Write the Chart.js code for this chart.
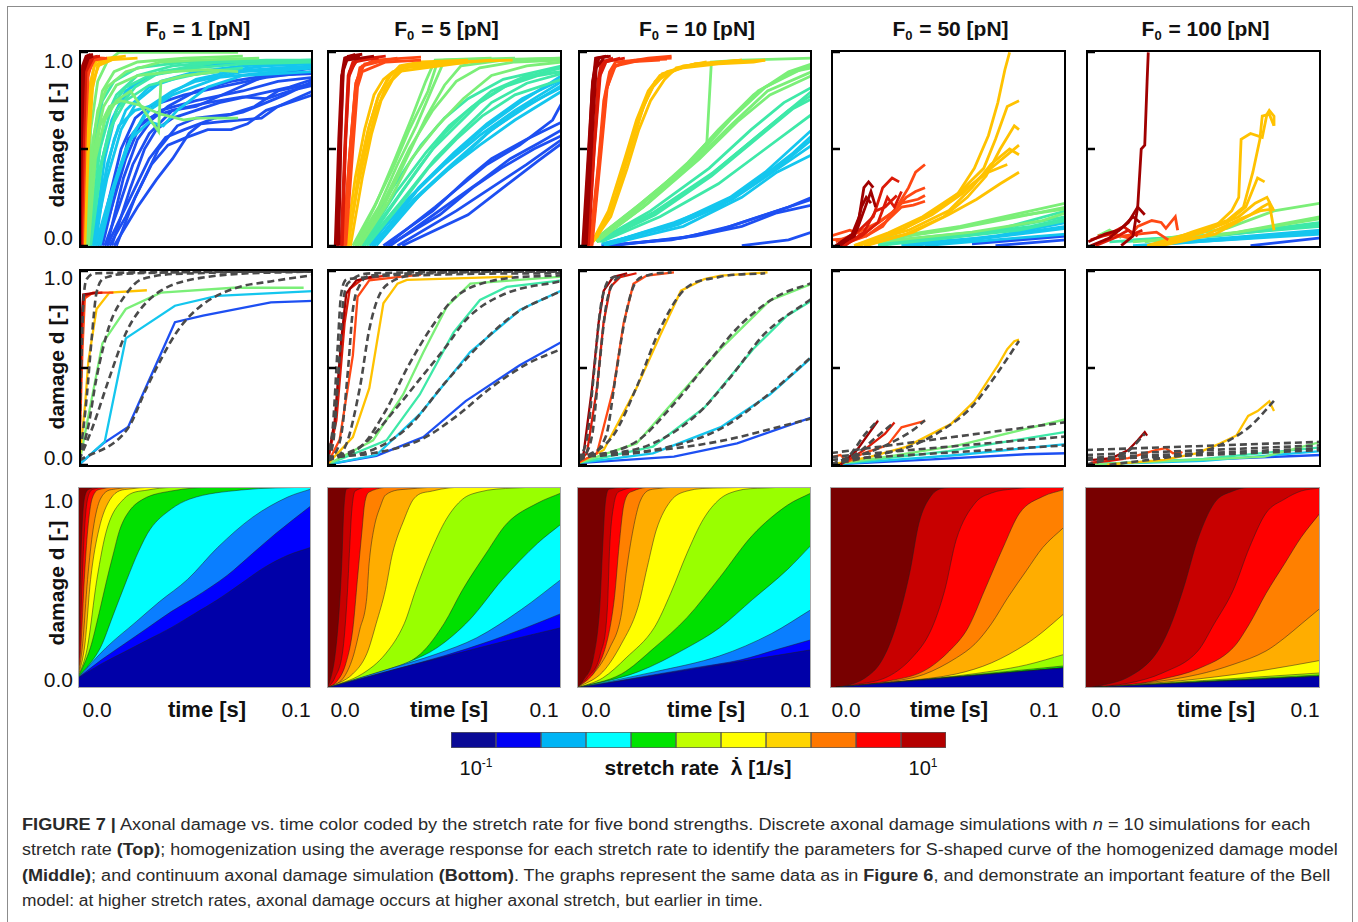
<!DOCTYPE html>
<html><head><meta charset="utf-8">
<script src="https://cdn.jsdelivr.net/npm/chart.js@4.4.1/dist/chart.umd.min.js"></script>
<style>
html,body{margin:0;padding:0;background:#fff;}
body{width:1358px;height:922px;position:relative;overflow:hidden;font-family:"Liberation Sans",Arial,Helvetica,sans-serif;color:#111;}
.abs{position:absolute;white-space:nowrap;line-height:1.15;}
#box{position:absolute;left:7px;top:6px;width:1346px;height:940px;border:1.5px solid #8c8c8c;box-sizing:border-box;}
.title{font-weight:bold;font-size:21px;transform:translate(-50%,-50%);}
.title sub{font-size:13px;vertical-align:-4px;margin-right:1px;}
.ylab{font-size:21px;transform:translate(-100%,-50%);}
.yname{font-weight:bold;font-size:21px;transform:translate(-50%,-50%) rotate(-90deg);}
.xl{font-size:21px;transform:translate(-50%,-50%);}
.xname{font-weight:bold;font-size:22px;transform:translate(-50%,-50%);}
.cb{font-size:20px;transform:translate(-50%,-50%);}
.cb sup{font-size:12px;vertical-align:8px;}
.cbname{font-weight:bold;font-size:21px;transform:translate(-50%,-50%);}
.lam{position:relative;display:inline-block;}
.lam .dot{position:absolute;left:50%;top:-3px;transform:translateX(-50%);font-weight:bold;}
.cap{font-size:16px;color:#2a2a2a;transform-origin:0 0;line-height:1;}
</style></head><body>
<div id="box"></div>
<script>
// ---------------- DATA ----------------
const FORCES = [1, 5, 10, 50, 100];           // bond strengths F0 [pN]
const TIME_TICKS = ['0.0', '0.1'];            // time [s]
const DAMAGE_TICKS = ['1.0', '0.0'];          // damage d [-]
const RATE_BINS = ['10^-1','','','','','','','','','','10^1']; // colorbar bins (11)

// Top row: discrete simulations [stretch-rate index, flat (t,d) pairs]
const TOP_F1 = [
[0,[.009,0,.014,.2,.02,.45,.026,.62,.035,.7,.05,.75,.07,.8,.085,.85,.1,.87]],
[0,[.011,0,.017,.2,.023,.42,.03,.58,.04,.7,.055,.74,.07,.77,.08,.76,.09,.8,.1,.83]],
[0,[.013,0,.02,.15,.028,.35,.034,.5,.042,.62,.05,.66,.065,.68,.075,.72,.085,.8,.1,.84]],
[0,[.012,0,.022,.25,.03,.45,.037,.56,.045,.6,.058,.66,.07,.69,.08,.74,.088,.78,.1,.85]],
[0,[.015,0,.025,.2,.033,.34,.04,.45,.047,.58,.052,.63,.06,.64,.078,.66,.085,.72,.1,.8]],
[0,[.008,0,.013,.25,.018,.5,.024,.66,.03,.72,.045,.78,.06,.82,.08,.87,.1,.9]],
[0,[.01,0,.016,.3,.021,.55,.027,.64,.032,.67,.04,.7,.05,.72,.065,.8,.08,.88,.1,.92]],
[0,[.014,0,.022,.3,.028,.5,.033,.6,.04,.66,.05,.7,.06,.74,.075,.78,.09,.82,.1,.86]],
[0,[.016,0,.024,.25,.031,.42,.038,.52,.046,.56,.055,.6,.065,.6,.072,.63,.08,.7,.1,.78]],
[0,[.012,0,.019,.35,.025,.55,.031,.65,.038,.72,.05,.8,.065,.85,.08,.88,.1,.89]],
[1,[.005,0,.01,.3,.015,.55,.02,.7,.03,.82,.045,.88,.06,.9,.08,.93,.1,.94]],
[1,[.006,0,.012,.35,.018,.6,.025,.75,.035,.85,.05,.9,.07,.93,.1,.95]],
[1,[.007,0,.013,.25,.02,.5,.028,.68,.038,.78,.05,.86,.065,.9,.085,.92,.1,.93]],
[1,[.005,0,.009,.4,.014,.65,.02,.8,.03,.88,.045,.92,.06,.95,.1,.96]],
[1,[.008,0,.015,.3,.022,.55,.03,.64,.036,.62,.042,.7,.055,.82,.07,.88,.1,.9]],
[1,[.006,0,.011,.45,.016,.7,.022,.82,.03,.88,.05,.93,.075,.95,.1,.95]],
[1,[.007,0,.012,.42,.017,.62,.024,.7,.03,.72,.04,.8,.05,.85,.07,.9,.1,.92]],
[1,[.009,0,.016,.35,.023,.58,.03,.7,.04,.78,.06,.87,.1,.92]],
[2,[.003,0,.007,.4,.011,.65,.016,.78,.025,.88,.04,.93,.06,.95,.08,.96,.1,.96]],
[2,[.004,0,.008,.35,.013,.6,.02,.75,.03,.83,.04,.86,.055,.9,.07,.92]],
[2,[.003,0,.006,.5,.01,.75,.015,.85,.025,.92,.045,.95,.077,.96]],
[2,[.004,0,.009,.5,.014,.72,.02,.82,.03,.88,.05,.92,.07,.94,.1,.95]],
[2,[.005,0,.01,.45,.016,.7,.024,.82,.035,.9,.06,.95,.1,.96]],
[3,[.002,0,.005,.45,.008,.7,.012,.82,.02,.9,.035,.95,.05,.96,.077,.97]],
[3,[.003,0,.006,.4,.009,.62,.013,.72,.018,.75,.025,.73,.035,.68,.045,.65,.05,.66,.068,.66]],
[3,[.003,0,.005,.6,.008,.85,.012,.95,.017,1,.068,1]],
[3,[.004,0,.007,.45,.011,.65,.016,.75,.022,.8,.034,.59,.035,.85,.045,.88,.06,.9]],
[3,[.003,0,.006,.55,.01,.8,.015,.9,.025,.95,.045,.97,.07,.98]],
[3,[.0035,0,.0065,.5,.0105,.72,.016,.83,.025,.88,.04,.9,.055,.91,.068,.9]],
[4,[.0015,0,.003,.5,.005,.85,.007,.95,.012,.97,.02,.98]],
[4,[.002,0,.0035,.45,.0055,.8,.008,.93,.014,.96]],
[4,[.0025,0,.004,.5,.006,.85,.009,.95,.016,.97]],
[4,[.002,0,.0032,.55,.0048,.82,.0065,.93,.011,.96,.025,.97]],
[5,[.001,0,.002,.5,.003,.85,.005,.96,.01,.97]],
[5,[.0015,0,.0028,.6,.004,.9,.007,.97,.011,.97]],
[5,[.0012,0,.0024,.55,.0036,.87,.006,.96,.012,.97]],
[6,[.0008,0,.0015,.6,.0025,.92,.004,.97,.008,.98]],
[6,[.001,0,.002,.55,.003,.9,.006,.97]],
[6,[.0009,0,.0018,.6,.0028,.9,.005,.97,.009,.98]],
[7,[.0003,0,.0008,.6,.0015,.93,.003,.98,.005,.99]],
[7,[.0005,0,.001,.5,.002,.9,.004,.97,.006,.98]],
[7,[.0004,0,.0009,.55,.0018,.92,.0035,.98,.006,.99]]
];
const TOP_F5 = [
[0,[.025,0,.046,.2,.068,.42,.082,.52,.096,.65,.1,.74]],
[0,[.024,0,.045,.18,.06,.35,.07,.45,.085,.55,.1,.64]],
[0,[.027,0,.05,.2,.065,.33,.078,.45,.09,.53,.1,.6]],
[0,[.03,0,.055,.18,.07,.3,.085,.42,.1,.55]],
[0,[.032,0,.06,.16,.075,.3,.09,.44,.1,.53]],
[0,[.026,0,.048,.16,.062,.3,.074,.4,.088,.5,.1,.57]],
[1,[.018,0,.035,.25,.05,.42,.065,.57,.08,.7,.1,.85]],
[1,[.02,0,.038,.28,.052,.45,.066,.6,.082,.74,.1,.88]],
[1,[.019,0,.036,.22,.05,.38,.065,.52,.08,.65,.1,.8]],
[1,[.021,0,.04,.27,.055,.43,.07,.6,.085,.72,.1,.83]],
[1,[.019,0,.037,.24,.053,.42,.068,.58,.084,.72,.1,.82]],
[1,[.02,0,.039,.3,.054,.48,.068,.63,.083,.76,.1,.86]],
[2,[.015,0,.03,.25,.04,.42,.05,.58,.06,.7,.07,.8,.085,.88,.1,.9]],
[2,[.016,0,.032,.28,.045,.5,.055,.62,.065,.74,.078,.84,.09,.89,.1,.92]],
[2,[.017,0,.033,.24,.043,.4,.055,.55,.066,.67,.08,.78,.1,.86]],
[2,[.014,0,.028,.3,.04,.52,.05,.66,.06,.76,.075,.86,.1,.93]],
[2,[.015,0,.029,.27,.042,.48,.052,.62,.062,.72,.075,.82,.09,.88,.1,.9]],
[2,[.016,0,.031,.22,.046,.45,.058,.6,.07,.74,.085,.84,.1,.89]],
[3,[.011,0,.02,.2,.028,.4,.035,.6,.043,.8,.047,.95,.06,.96,.1,.97]],
[3,[.012,0,.022,.2,.03,.42,.038,.62,.045,.82,.05,.96,.08,.97]],
[3,[.013,0,.025,.25,.035,.5,.045,.7,.055,.85,.065,.92,.08,.95,.1,.96]],
[3,[.014,0,.026,.22,.036,.45,.047,.62,.058,.76,.07,.88,.085,.93,.1,.95]],
[3,[.012,0,.021,.22,.029,.45,.036,.66,.042,.85,.046,.96,.07,.97]],
[3,[.013,0,.024,.2,.033,.43,.042,.66,.05,.83,.057,.93,.075,.96,.1,.97]],
[4,[.008,0,.012,.35,.016,.6,.02,.78,.024,.86,.028,.9,.035,.93,.05,.95,.079,.96]],
[4,[.009,0,.014,.4,.018,.62,.022,.78,.027,.88,.031,.93,.04,.95,.06,.96]],
[4,[.0085,0,.013,.3,.017,.52,.021,.7,.025,.82,.03,.9,.06,.95]],
[4,[.01,0,.015,.35,.019,.58,.023,.75,.028,.86,.033,.92,.07,.96]],
[4,[.009,0,.0135,.38,.0175,.6,.0215,.76,.026,.87,.032,.93,.05,.95]],
[5,[.0068,0,.0095,.45,.012,.8,.014,.92,.02,.96,.04,.975]],
[5,[.0075,0,.01,.5,.0125,.85,.016,.94,.03,.97]],
[5,[.008,0,.011,.5,.013,.82,.015,.9,.025,.95,.04,.96]],
[5,[.007,0,.0098,.5,.0122,.84,.015,.93,.025,.96]],
[6,[.006,0,.0075,.5,.009,.88,.011,.95,.018,.97,.025,.98]],
[6,[.0065,0,.008,.55,.0095,.9,.013,.96,.022,.97]],
[6,[.0062,0,.0078,.52,.0092,.87,.012,.95,.02,.97]],
[7,[.004,0,.0055,.5,.0065,.9,.0075,.97,.012,.99]],
[7,[.005,0,.006,.6,.007,.92,.009,.98,.015,.99]],
[7,[.0035,0,.005,.55,.0062,.88,.0085,.96,.02,.98]],
[7,[.0045,0,.0058,.55,.0068,.9,.008,.97,.014,.98]]
];
const TOP_F10 = [
[0,[.01,0,.04,.03,.06,.08,.075,.14,.09,.2,.1,.25]],
[0,[.012,0,.045,.04,.065,.1,.08,.16,.1,.24]],
[0,[.015,0,.05,.05,.07,.1,.085,.17,.1,.21]],
[0,[.07,0,.09,.03,.1,.07]],
[1,[.01,.01,.04,.1,.06,.2,.075,.32,.09,.45,.1,.55]],
[1,[.012,.01,.042,.12,.065,.25,.08,.38,.1,.6]],
[1,[.011,0,.045,.1,.07,.25,.085,.38,.1,.47]],
[1,[.011,.01,.043,.11,.066,.24,.082,.37,.1,.52]],
[1,[.012,.01,.041,.12,.062,.22,.078,.35,.092,.48,.1,.57]],
[2,[.008,.02,.03,.15,.055,.35,.075,.55,.09,.7,.1,.78]],
[2,[.009,.03,.032,.17,.058,.38,.078,.58,.092,.72,.1,.8]],
[2,[.01,.02,.035,.15,.06,.32,.08,.5,.1,.68]],
[2,[.009,.02,.033,.16,.057,.36,.077,.56,.092,.71,.1,.76]],
[2,[.008,.02,.031,.18,.056,.4,.074,.6,.088,.74,.1,.82]],
[3,[.007,.03,.025,.2,.045,.4,.06,.6,.075,.78,.09,.9,.1,.94]],
[3,[.008,.02,.028,.2,.048,.42,.055,.52,.057,.95,.07,.96,.1,.97]],
[3,[.006,.02,.027,.22,.05,.45,.065,.65,.08,.82,.095,.91,.1,.93]],
[3,[.009,.03,.03,.22,.052,.45,.068,.64,.082,.78,.1,.88]],
[3,[.008,.02,.027,.21,.047,.43,.062,.62,.077,.8,.092,.9,.1,.92]],
[3,[.007,.03,.029,.23,.05,.44,.066,.63,.081,.8,.1,.9]],
[4,[.006,.02,.013,.18,.02,.45,.025,.65,.03,.8,.035,.88,.045,.92,.06,.94,.075,.95,.08,.96]],
[4,[.007,.03,.015,.2,.022,.5,.027,.7,.032,.82,.038,.9,.05,.94,.07,.96]],
[4,[.0065,.02,.014,.15,.021,.4,.026,.6,.031,.75,.037,.86,.042,.92,.055,.95]],
[4,[.008,.04,.016,.25,.023,.52,.028,.72,.033,.85,.045,.93,.07,.96]],
[4,[.007,.03,.0145,.19,.0215,.47,.0265,.67,.031,.81,.036,.89,.05,.94,.08,.96]],
[5,[.005,0,.0085,.4,.011,.75,.0135,.9,.016,.95,.025,.96,.03,.97,.04,.98]],
[5,[.0055,0,.009,.45,.012,.8,.015,.92,.02,.95,.035,.96]],
[5,[.006,0,.01,.5,.0125,.82,.016,.93,.027,.96,.038,.965]],
[5,[.0058,0,.0095,.48,.0122,.81,.0155,.93,.024,.96,.04,.97]],
[6,[.004,0,.0065,.45,.0085,.85,.01,.95,.015,.97]],
[6,[.0045,0,.007,.5,.0095,.88,.012,.95,.018,.97]],
[6,[.0042,0,.0068,.48,.009,.86,.011,.95,.02,.97]],
[7,[.002,0,.004,.4,.006,.8,.0075,.97,.012,.98]],
[7,[.003,0,.005,.5,.0068,.88,.009,.97,.014,.98]],
[7,[.0035,0,.006,.55,.0078,.92,.011,.97]],
[7,[.0025,0,.0045,.45,.0062,.85,.008,.97,.013,.98]]
];
const TOP_F50 = [
[0,[.07,0,.1,.03]],
[0,[.06,.01,.1,.05]],
[1,[.03,0,.06,.03,.1,.09]],
[1,[.035,0,.07,.05,.1,.12]],
[1,[.04,0,.08,.04,.1,.06]],
[1,[.03,.01,.065,.04,.1,.1]],
[2,[.02,0,.05,.04,.08,.08,.1,.13]],
[2,[.025,.01,.06,.06,.1,.15]],
[2,[.02,.02,.07,.08,.1,.18]],
[2,[.02,.01,.055,.05,.085,.1,.1,.14]],
[3,[.015,.02,.05,.08,.08,.15,.1,.2]],
[3,[.018,.03,.055,.1,.085,.18,.1,.22]],
[3,[.02,.02,.06,.07,.09,.13,.1,.17]],
[3,[.017,.02,.052,.09,.083,.16,.1,.19]],
[4,[.0098,0,.0244,.067,.039,.15,.054,.27,.061,.4,.067,.57,.071,.74,.074,.91,.076,1]],
[4,[.012,0,.03,.08,.045,.18,.055,.28,.065,.4,.07,.55,.075,.72,.08,.75]],
[4,[.014,0,.032,.06,.048,.15,.058,.25,.066,.36,.072,.5,.078,.62,.08,.6]],
[4,[.01,0,.028,.07,.043,.16,.056,.27,.064,.36,.073,.45,.08,.52]],
[4,[.013,.01,.033,.08,.05,.18,.06,.3,.068,.42,.076,.5,.08,.47]],
[4,[.015,0,.035,.07,.05,.16,.062,.24,.072,.32,.08,.38]],
[4,[.011,0,.031,.09,.047,.2,.058,.3,.067,.38,.075,.42]],
[5,[0,.05,.008,.08,.015,.05,.022,.1,.028,.2,.033,.3,.036,.38,.04,.42]],
[5,[.002,.02,.01,.06,.02,.12,.027,.18,.032,.25,.036,.28,.04,.3]],
[5,[0,.03,.012,.04,.018,.1,.025,.16,.03,.22,.037,.24,.04,.26]],
[5,[.003,0,.015,.05,.024,.13,.03,.2,.035,.21,.04,.23]],
[6,[.004,0,.012,.08,.018,.15,.022,.3,.026,.35,.029,.33]],
[6,[.005,0,.013,.05,.02,.12,.024,.25,.027,.2,.03,.28]],
[6,[.006,0,.014,.07,.019,.18,.023,.2,.028,.26]],
[7,[.002,0,.009,.06,.012,.15,.014,.3,.016,.33,.018,.3]],
[7,[.003,0,.01,.05,.013,.2,.015,.25,.017,.22]],
[7,[.004,0,.011,.08,.014,.18,.017,.28,.019,.2]]
];
const TOP_F100 = [
[0,[.07,0,.1,.04]],
[1,[.02,0,.06,.03,.1,.06]],
[1,[.03,.01,.1,.08]],
[1,[.025,0,.07,.04,.1,.07]],
[2,[.01,.02,.05,.05,.1,.1]],
[2,[.02,.03,.06,.06,.1,.12]],
[2,[.015,.02,.055,.05,.1,.11]],
[3,[.005,.05,.01,.08,.015,.04]],
[3,[.03,.03,.06,.09,.08,.18,.1,.22]],
[3,[.02,.02,.06,.06,.1,.15]],
[3,[.025,.02,.065,.07,.1,.14]],
[4,[.026,0,.04,.05,.055,.1,.062,.18,.065,.25,.066,.55,.07,.58,.075,.56,.077,.68,.078,.7,.08,.67,.08,.62]],
[4,[.03,0,.045,.07,.06,.13,.067,.2,.071,.38,.074,.55,.075,.67,.078,.68,.08,.62]],
[4,[.028,0,.045,.06,.06,.12,.068,.2,.073,.35,.076,.33]],
[4,[.03,0,.05,.07,.065,.15,.072,.22,.077,.25,.08,.18]],
[4,[.032,0,.055,.06,.07,.16,.075,.2,.078,.22,.08,.08]],
[4,[.027,0,.05,.05,.066,.14,.074,.18,.08,.19]],
[5,[.005,.05,.012,.06,.018,.04,.022,.1,.028,.13,.032,.12,.034,.09,.038,.15,.039,.08]],
[5,[.008,.03,.015,.05,.022,.06,.03,.07,.035,.03]],
[6,[.002,.03,.01,.06,.016,.1,.02,.06,.024,.08]],
[6,[.004,0,.012,.04,.018,.08,.022,.05]],
[7,[.015,0,.02,.05,.022,.2,.0235,.5,.025,.52,.026,.85,.0265,1]],
[7,[.001,.02,.008,.06,.014,.08,.018,.12,.022,.2,.025,.16]],
[7,[.002,0,.01,.04,.016,.1,.02,.15,.023,.12]]
];

// Middle row: averaged responses [rate, pairs] and S-curve fits (pairs)
const MID_F1 = [
[0,[0,0,.0104,.11,.021,.195,.041,.737,.053,.771,.082,.839,.1,.847]],
[1,[0,0,.011,.119,.02,.653,.041,.822,.059,.873,.1,.898]],
[3,[0,0,.01,.627,.02,.805,.035,.89,.066,.915,.096,.915]],
[4,[0,0,.0026,.31,.004,.534,.0075,.805,.013,.89,.029,.902]],
[5,[0,0,.0015,.6,.0025,.86,.006,.89,.0147,.89]],
[6,[0,0,.001,.65,.002,.87,.005,.885,.01,.89]],
[7,[0,0,.0008,.7,.0018,.88,.0075,.89]]
];
const FIT_F1 = [
[0,.02,.021,.19,.029,.4,.042,.69,.052,.82,.066,.91,.083,.95,.1,.98],
[0,.02,.006,.2,.013,.45,.02,.68,.026,.8,.035,.9,.052,.966,.1,1],
[0,.02,.004,.2,.0075,.45,.013,.72,.02,.88,.027,.96,.05,.99,.1,1],
[0,.02,.002,.2,.0033,.35,.0054,.65,.0075,.89,.012,.97,.025,.99,.1,1],
[0,.05,.0011,.57,.0018,.82,.0033,.96,.008,.99,.1,1]
];
const MID_F5 = [
[0,[0,0,.021,.046,.041,.143,.059,.329,.082,.514,.1,.636]],
[1,[0,0,.021,.05,.0395,.261,.0609,.582,.0822,.801,.1,.902]],
[2,[0,0,.0253,.126,.0395,.363,.0538,.683,.0651,.852,.0765,.919,.1,.953]],
[3,[0,0,.0196,.126,.0324,.363,.041,.582,.051,.818,.061,.936,.1,.973]],
[4,[0,0,.011,.143,.018,.396,.024,.835,.03,.936,.034,.956,.079,.973]],
[5,[0,0,.0054,.13,.011,.565,.013,.868,.018,.953,.03,.97,.04,.983]],
[6,[0,0,.004,.23,.0075,.733,.0097,.91,.015,.96,.025,.978]],
[7,[0,0,.0033,.23,.0061,.65,.0082,.885,.0125,.953,.02,.975]]
];
const FIT_F5 = [
[0,.04,.02,.06,.04,.13,.055,.25,.07,.4,.085,.52,.1,.6],
[0,.03,.02,.08,.035,.2,.05,.42,.065,.62,.08,.78,.1,.9],
[0,.03,.015,.1,.03,.3,.04,.45,.05,.6,.06,.76,.075,.88,.1,.95],
[0,.02,.015,.1,.025,.28,.035,.52,.045,.72,.055,.87,.07,.95,.1,.98],
[0,.02,.008,.1,.014,.4,.018,.7,.022,.87,.028,.95,.04,.98,.1,.99],
[0,.02,.006,.15,.009,.5,.011,.8,.014,.93,.02,.98,.1,1],
[0,.02,.003,.15,.005,.5,.007,.85,.01,.95,.02,.99,.1,1],
[0,.02,.0025,.2,.0045,.6,.006,.88,.009,.96,.1,1]
];
const MID_F10 = [
[0,[0,.008,.041,.042,.068,.11,.1,.245]],
[1,[0,.008,.032,.059,.061,.194,.082,.363,.1,.556]],
[2,[0,.008,.032,.093,.054,.295,.075,.6,.089,.767,.1,.85]],
[3,[0,.008,.025,.11,.046,.396,.061,.6,.082,.85,.1,.936]],
[4,[0,.008,.011,.076,.025,.396,.035,.666,.044,.9,.054,.96,.061,.978,.081,.995]],
[5,[0,.01,.0081,.059,.0152,.396,.0195,.733,.0237,.936,.0294,.978,.041,.995]],
[6,[0,.01,.0038,.059,.0081,.396,.0109,.733,.0138,.919,.018,.97,.025,.99]],
[7,[0,.01,.0024,.059,.006,.396,.0088,.733,.011,.9,.015,.97,.021,.99]]
];
const FIT_F10 = [
[0,.05,.03,.07,.06,.12,.1,.24],
[0,.04,.03,.07,.06,.18,.08,.35,.1,.56],
[0,.04,.03,.1,.05,.25,.065,.45,.08,.68,.1,.86],
[0,.03,.025,.12,.04,.3,.055,.52,.07,.73,.085,.87,.1,.94],
[0,.02,.015,.15,.025,.4,.035,.7,.045,.9,.06,.97,.08,.99],
[0,.02,.012,.15,.016,.45,.02,.75,.024,.93,.03,.98,.04,.995],
[0,.02,.006,.15,.009,.5,.012,.82,.015,.94,.02,.98],
[0,.02,.004,.15,.007,.5,.0095,.8,.012,.93,.017,.98]
];
const MID_F50 = [
[0,[0,0,.039,.025,.083,.054,.1,.059]],
[1,[0,0,.054,.05,.1,.106]],
[2,[0,0,.05,.07,.1,.17]],
[3,[0,0,.024,.042,.054,.1,.1,.235]],
[4,[0,0,.017,.042,.032,.092,.051,.21,.061,.328,.071,.513,.075,.597,.078,.639,.08,.647]],
[5,[.001,.04,.004,.05,.007,.015,.014,.06,.024,.1,.03,.193,.035,.21,.04,.227]],
[6,[.004,0,.014,.075,.023,.16,.027,.218]],
[7,[.004,0,.011,.075,.016,.16,.02,.227]]
];
const FIT_F50 = [
[0,0,.02,.05,.035,.1,.05,.2,.06,.3,.07,.46,.08,.64],
[0,0,.015,.06,.025,.11,.035,.18,.04,.23],
[0,0,.01,.05,.02,.15,.027,.22],
[0,0,.008,.05,.014,.15,.02,.23],
[0,.06,.1,.22],
[0,.04,.1,.146],
[0,.025,.1,.1]
];
const MID_F100 = [
[0,[0,0,.047,.025,.1,.05]],
[1,[0,0,.05,.02,.1,.07]],
[2,[0,0,.05,.03,.1,.09]],
[3,[0,0,.047,.025,.076,.042,.1,.118]],
[4,[.009,0,.033,.025,.047,.059,.057,.109,.064,.151,.069,.252,.073,.277,.078,.328,.08,.277]],
[5,[.006,.025,.018,.034,.03,.076,.034,.085,.037,.059,.04,.067,.041,.06]],
[6,[.002,.01,.01,.02,.016,.03]],
[7,[.003,.025,.011,.034,.018,.076,.022,.126,.025,.168,.026,.15]]
];
const FIT_F100 = [
[.01,0,.03,.03,.05,.07,.06,.12,.07,.2,.08,.33],
[0,0,.01,.03,.018,.07,.025,.16],
[0,.076,.1,.118],
[0,.05,.1,.1],
[0,.035,.1,.085],
[0,.025,.1,.075]
];

// Bottom row: continuum model, 11 iso-rate boundary curves (lowest first)
const BOT_F1 = [
[0,.05,.01,.12,.02,.18,.03,.24,.04,.3,.05,.37,.06,.44,.07,.52,.08,.6,.09,.66,.1,.7],
[0,.05,.01,.14,.02,.22,.03,.3,.04,.38,.05,.45,.064,.56,.075,.67,.085,.77,.1,.907],
[0,.05,.012,.2,.025,.33,.035,.43,.047,.54,.06,.7,.075,.85,.09,.95,.1,.99],
[0,.05,.0096,.2,.015,.36,.021,.54,.026,.68,.031,.79,.04,.89,.048,.94,.07,.985,.1,1],
[0,.05,.0053,.2,.009,.37,.0124,.54,.015,.66,.018,.79,.022,.88,.028,.94,.04,.98,.06,1,.1,1],
[0,.05,.004,.2,.0081,.54,.0124,.79,.0196,.94,.03,.985,.05,1,.1,1],
[0,.05,.003,.22,.0054,.54,.009,.79,.0139,.94,.022,.99,.04,1,.1,1],
[0,.05,.002,.22,.0041,.54,.0065,.79,.0096,.94,.016,.99,.03,1,.1,1],
[0,.05,.0013,.22,.0027,.54,.0042,.79,.006,.94,.01,.99,.02,1,.1,1],
[0,.05,.0009,.24,.0018,.54,.0028,.79,.0041,.94,.007,.99,.015,1,.1,1],
[0,.05,.0005,.25,.001,.54,.0017,.79,.0027,.94,.005,.99,.01,1,.1,1]
];
const BOT_F5 = [
[0,0,.025,.08,.05,.155,.075,.23,.1,.3],
[0,0,.025,.08,.05,.16,.07,.235,.085,.3,.1,.37],
[0,0,.025,.09,.047,.17,.064,.25,.083,.39,.1,.54],
[0,0,.02,.07,.035,.13,.047,.2,.061,.34,.075,.54,.09,.72,.1,.815],
[0,0,.015,.04,.025,.08,.04,.17,.05,.32,.058,.49,.068,.67,.077,.82,.09,.92,.1,.97],
[0,0,.015,.07,.025,.17,.033,.32,.038,.49,.044,.67,.051,.84,.058,.94,.065,.975,.08,.995,.1,1],
[0,0,.011,.07,.017,.17,.021,.32,.025,.49,.028,.67,.033,.84,.037,.94,.045,.98,.06,1,.1,1],
[0,0,.007,.05,.011,.15,.014,.29,.017,.45,.018,.62,.02,.79,.023,.91,.025,.96,.035,.99,.05,1,.1,1],
[0,0,.004,.03,.008,.12,.011,.29,.013,.54,.015,.79,.016,.91,.018,.975,.03,1,.1,1],
[0,0,.0033,.05,.0069,.2,.0086,.45,.0097,.7,.0105,.87,.012,.98,.02,1,.1,1],
[0,0,.0011,.03,.0033,.15,.0051,.37,.0063,.62,.0071,.87,.0083,.99,.015,1,.1,1]
];
const BOT_F10 = [
[0,0,.05,.095,.1,.19],
[0,0,.05,.1,.07,.14,.085,.19,.1,.24],
[0,0,.033,.08,.061,.16,.083,.27,.1,.39],
[0,0,.026,.08,.047,.2,.061,.3,.075,.44,.09,.59,.1,.71],
[0,0,.019,.07,.033,.2,.047,.35,.061,.55,.075,.76,.09,.91,.1,.97],
[0,0,.011,.05,.021,.15,.033,.3,.04,.47,.047,.67,.054,.84,.061,.94,.068,.98,.08,.995,.1,1],
[0,0,.011,.08,.019,.22,.026,.4,.03,.6,.034,.79,.04,.93,.047,.98,.06,.995,.1,1],
[0,0,.007,.07,.014,.2,.019,.37,.021,.57,.024,.79,.027,.93,.033,.99,.05,1,.1,1],
[0,0,.007,.07,.013,.24,.016,.45,.018,.71,.02,.91,.024,.98,.035,1,.1,1],
[0,0,.0043,.05,.01,.17,.013,.4,.014,.71,.0157,.91,.0185,.98,.03,1,.1,1],
[0,0,.0028,.04,.007,.15,.0097,.4,.011,.71,.012,.91,.014,.99,.025,1,.1,1]
];
const BOT_F50 = [
[0,0,.05,.05,.1,.1],
[0,0,.05,.05,.1,.1],
[0,0,.05,.05,.1,.1],
[0,0,.05,.05,.1,.1],
[0,0,.05,.053,.1,.11],
[0,0,.03,.032,.054,.06,.07,.085,.084,.115,.1,.167],
[0,0,.01,.01,.032,.035,.054,.07,.069,.125,.084,.22,.091,.28,.1,.37],
[0,0,.01,.012,.025,.03,.04,.067,.054,.15,.062,.22,.069,.32,.076,.45,.084,.585,.091,.7,.1,.8],
[0,0,.01,.012,.025,.035,.04,.084,.051,.184,.059,.3,.066,.485,.074,.7,.081,.87,.091,.953,.1,.987],
[0,0,.01,.015,.025,.058,.035,.15,.043,.284,.049,.485,.054,.74,.062,.92,.069,.97,.078,.99,.09,1,.1,1],
[0,0,.007,.012,.015,.05,.022,.134,.028,.3,.034,.57,.038,.82,.043,.953,.049,.995,.06,1,.1,1]
];
const BOT_F100 = [
[0,0,.05,.029,.1,.058],
[0,0,.05,.029,.1,.058],
[0,0,.05,.029,.1,.058],
[0,0,.05,.029,.1,.058],
[0,0,.05,.033,.1,.065],
[0,0,.05,.037,.1,.075],
[0,0,.019,.015,.048,.045,.077,.09,.1,.137],
[0,0,.026,.025,.048,.067,.063,.117,.077,.184,.085,.25,.092,.318,.1,.396],
[0,0,.019,.015,.033,.045,.048,.095,.063,.2,.07,.32,.077,.47,.085,.62,.092,.75,.1,.87],
[0,0,.019,.025,.033,.075,.048,.184,.055,.32,.063,.485,.07,.7,.077,.87,.085,.94,.092,.98,.1,.995],
[0,0,.007,.013,.019,.058,.03,.167,.036,.3,.042,.5,.048,.74,.055,.92,.063,.98,.07,.998,.1,1]
];
const UPPER_BOUND = [0,1,.1,1];

// ---------------- STYLE / LAYOUT ----------------
const LINE_COLORS = ['#1d4ff2','#14c6ee','#3ee9a8','#7bef78','#ffc200','#ff4814','#dc1a08','#a00000'];
const REGION_COLORS = ['#0000a8','#0000ff','#0a7eff','#00ffff','#00e000','#99ff00','#ffff00','#ffad00','#ff8000','#ff0000','#c80000','#780000'];
const CB_COLORS = ['#0a0a96','#0000f5','#00b4f5','#00ffff','#00e400','#c0ff00','#ffff00','#ffd400','#ff7800','#ff0000','#b40000'];
const COL_L = [79,327,578,831,1086], COL_W = [234,235,234,235,235];
const COL3_L = [78,327,577,830,1085], COL3_W = [233,234,234,234,235];
const ROW_T = [50,269,487], ROW_H = [198,198,201];

const TOPS = [TOP_F1,TOP_F5,TOP_F10,TOP_F50,TOP_F100];
const MIDS = [MID_F1,MID_F5,MID_F10,MID_F50,MID_F100];
const FITS = [FIT_F1,FIT_F5,FIT_F10,FIT_F50,FIT_F100];
const BOTS = [BOT_F1,BOT_F5,BOT_F10,BOT_F50,BOT_F100];

function pts(f){const a=[];for(let i=0;i<f.length;i+=2)a.push({x:f[i],y:f[i+1]});return a;}
function mkCanvas(x,y,w,h){const c=document.createElement('canvas');c.width=w;c.height=h;c.style.cssText=`position:absolute;left:${x}px;top:${y}px;width:${w}px;height:${h}px;`;document.body.appendChild(c);return c;}
function txt(html,x,y,cls){const d=document.createElement('div');d.className='abs '+cls;d.innerHTML=html;d.style.left=x+'px';d.style.top=y+'px';document.body.appendChild(d);return d;}
function opts(ymin,ymax){return {responsive:false,animation:false,devicePixelRatio:1,events:[],layout:{padding:0},
  plugins:{legend:{display:false},tooltip:{enabled:false}},
  scales:{x:{type:'linear',min:0,max:0.1,display:false},y:{type:'linear',min:ymin,max:ymax,display:false}}};}

const blackFrame={id:'blackFrame',afterDatasetsDraw(chart){const {ctx,chartArea:a}=chart;const y=chart.scales.y;ctx.save();
  ctx.strokeStyle='#000';ctx.lineWidth=2;ctx.strokeRect(a.left+1,a.top+1,a.right-a.left-2,a.bottom-a.top-2);
  ctx.lineWidth=2.5;[0,0.5,1].forEach(v=>{const py=Math.round(y.getPixelForValue(v));ctx.beginPath();ctx.moveTo(a.left,py);ctx.lineTo(a.left+9,py);ctx.stroke();});
  ctx.restore();}};
const grayFrame={id:'grayFrame',afterDatasetsDraw(chart){const {ctx,chartArea:a}=chart;ctx.save();ctx.strokeStyle='#a8a8a8';ctx.lineWidth=1;
  ctx.strokeRect(a.left+0.5,a.top+0.5,a.right-a.left-1,a.bottom-a.top-1);ctx.restore();}};

for(let c=0;c<5;c++){
  // top row
  let cv=mkCanvas(COL_L[c],ROW_T[0],COL_W[c],ROW_H[0]);
  new Chart(cv,{type:'line',data:{datasets:TOPS[c].map(([r,f])=>({data:pts(f),borderColor:LINE_COLORS[r],borderWidth:2.8,pointRadius:0,tension:0,fill:false,order:20-r}))},options:opts(-0.012,1.012),plugins:[blackFrame]});
  // middle row
  cv=mkCanvas(COL_L[c],ROW_T[1],COL_W[c],ROW_H[1]);
  const ds=MIDS[c].map(([r,f])=>({data:pts(f),borderColor:LINE_COLORS[r],borderWidth:2.3,pointRadius:0,tension:0,fill:false,order:20-r}));
  FITS[c].forEach(f=>ds.push({data:pts(f),borderColor:'#4a4a4a',borderDash:[7,4],borderWidth:2.6,pointRadius:0,cubicInterpolationMode:'monotone',fill:false,order:0}));
  new Chart(cv,{type:'line',data:{datasets:ds},options:opts(-0.012,1.012),plugins:[blackFrame]});
  // bottom row
  cv=mkCanvas(COL3_L[c],ROW_T[2],COL3_W[c],ROW_H[2]);
  const bd=BOTS[c].map((f,k)=>({data:pts(f),borderColor:'rgba(30,30,30,0.7)',borderWidth:0.7,backgroundColor:REGION_COLORS[k],fill:'origin',pointRadius:0,cubicInterpolationMode:'monotone'}));
  bd.push({data:pts(UPPER_BOUND),borderWidth:0,borderColor:'rgba(0,0,0,0)',backgroundColor:REGION_COLORS[11],fill:'origin',pointRadius:0});
  new Chart(cv,{type:'line',data:{datasets:bd},options:opts(0,1),plugins:[grayFrame]});
}

// colorbar
const cbc=mkCanvas(451,732,495,16);
new Chart(cbc,{type:'bar',data:{labels:['rate'],datasets:CB_COLORS.map((col,i)=>({label:RATE_BINS[i],data:[1],backgroundColor:col,borderColor:'rgba(50,50,50,0.8)',borderWidth:1,borderSkipped:false,barPercentage:1,categoryPercentage:1}))},
  options:{indexAxis:'y',responsive:false,animation:false,devicePixelRatio:1,events:[],layout:{padding:0},plugins:{legend:{display:false},tooltip:{enabled:false}},
  scales:{x:{stacked:true,min:0,max:11,display:false},y:{stacked:true,display:false}}}});

// ---------------- TEXT ----------------
for(let c=0;c<5;c++){
  txt(`F<sub>0</sub> = ${FORCES[c]} [pN]`,COL_L[c]+COL_W[c]/2+2,30,'title');
}
const YT=[[61,238],[278,458],[501,680]], YN=[145,367,583];
for(let r=0;r<3;r++){
  txt(DAMAGE_TICKS[0],73,YT[r][0],'ylab');txt(DAMAGE_TICKS[1],73,YT[r][1],'ylab');
  txt('damage d [-]',57,YN[r],'yname');
}
const ZERO_X=[97,345,596,846,1106], ONE_X=[296,544,795,1044,1305], TIME_X=[207,449,706,949,1216];
for(let c=0;c<5;c++){
  txt(TIME_TICKS[0],ZERO_X[c],710,'xl');txt(TIME_TICKS[1],ONE_X[c],710,'xl');txt('time [s]',TIME_X[c],710,'xname');
}
txt('10<sup>-1</sup>',476,768,'cb');
txt('10<sup>1</sup>',923,768,'cb');
txt('stretch rate&nbsp;&nbsp;<span class="lam">λ<span class="dot">˙</span></span> [1/s]',698,768,'cbname');

const CAP=[
 ['<b>FIGURE 7 |</b> Axonal damage vs. time color coded by the stretch rate for five bond strengths. Discrete axonal damage simulations with <i>n</i> = 10 simulations for each',1288],
 ['stretch rate <b>(Top)</b>; homogenization using the average response for each stretch rate to identify the parameters for S-shaped curve of the homogenized damage model',1316],
 ['<b>(Middle)</b>; and continuum axonal damage simulation <b>(Bottom)</b>. The graphs represent the same data as in <b>Figure 6</b>, and demonstrate an important feature of the Bell',1308],
 ['model: at higher stretch rates, axonal damage occurs at higher axonal stretch, but earlier in time.',741]
];
CAP.forEach(([h,w],i)=>{const d=txt(h,22,817+i*25.4,'cap');const m=d.offsetWidth;d.style.transform=`scaleX(${w/m})`;});
</script>
</body></html>
